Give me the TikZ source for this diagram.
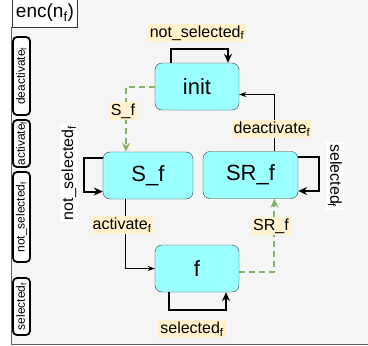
\documentclass[tikz,border=0pt]{standalone}
\usepackage{fontspec}
\setmainfont{Liberation Sans}
\usetikzlibrary{arrows.meta}
\definecolor{bgc}{HTML}{F5F5F5}
\definecolor{stc}{HTML}{9CFFFF}
\definecolor{lbl}{HTML}{FFF2CC}
\definecolor{grn}{HTML}{82B366}
\definecolor{edg}{HTML}{36393D}

\begin{document}
\begin{tikzpicture}[x=1pt,y=-1pt,
  fsm/.style={draw=edg,fill=stc,rounded corners=7pt,minimum width=84pt,minimum height=47pt,font=\fontsize{22}{24}\selectfont},
  elab/.style={fill=lbl,inner sep=2pt,font=\fontsize{16}{18}\selectfont},
  rlab/.style={fill=white,inner sep=2pt,font=\fontsize{16}{18}\selectfont},
  side/.style={draw,line width=1.8pt,rounded corners=4pt,fill=white,rotate=90,minimum height=17pt,inner sep=1pt,font=\fontsize{12}{14}\selectfont},
  selfloop/.style={line width=2pt,-{Stealth[length=9pt,width=8pt,inset=3pt]}},
  trans/.style={line width=1pt,-{Stealth[length=7pt,width=5pt]}},
  ctrl/.style={grn,line width=2pt,dash pattern=on 6pt off 4pt,-{Stealth[length=9pt,width=8pt]}}]
  \useasboundingbox (0,0) rectangle (368,346);
  \fill[bgc] (12,0) rectangle (368,344);
  \draw[edg!80,line width=1pt] (12,27) -- (12,344) -- (368,344);
  \node[draw=edg,fill=white,line width=1pt,minimum width=64pt,minimum height=28pt,font=\fontsize{19}{21}\selectfont] (enc) at (45,13) {enc(n\textsubscript{f})};

  % signals
  \node[side,minimum width=78pt] (sdeact) at (21.5,76) {deactivate\textsubscript{f}};
  \node[side,minimum width=47pt] (sact) at (21.5,143.5) {activate\textsubscript{f}};
  \node[side,minimum width=90pt] (sns) at (21.5,217) {not\_selected\textsubscript{f}};
  \node[side,minimum width=57pt] (ssel) at (21.5,306.5) {selected\textsubscript{f}};

  % states
  \node[fsm] (init) at (197,86.5) {init};
  \node[fsm,minimum width=90pt] (Sf) at (148,175.5) {S\_f};
  \node[fsm,minimum width=95pt] (SRf) at (250.5,175) {SR\_f};
  \node[fsm] (f) at (197,268.5) {f};

  \draw[selfloop] ([xshift=-26pt]init.north) -- ++(0,-14) -| ([xshift=31pt]init.north);
  \draw[ctrl] (init.west) -| ([xshift=-22pt]Sf.north);
  \draw[selfloop] ([yshift=18pt]Sf.west) -- ++(-19,0) |- ([yshift=-16pt]Sf.west);
  \draw[trans] ([xshift=-22pt]Sf.south) |- (f.west);
  \draw[trans] ([xshift=24pt]SRf.north) |- ([yshift=-8pt]init.east);
  \draw[selfloop] ([yshift=18pt]SRf.east) -- ++(21,0) |- ([yshift=-16pt]SRf.east);
  \draw[ctrl] ([yshift=-3pt]f.east) -| ([xshift=24pt]SRf.south);
  \draw[selfloop] ([xshift=-28pt]f.south) -- ++(0,18) -| ([xshift=29pt]f.south);

  % edge labels
  \node[elab] (lnsi) at (197,33) {not\_selected\textsubscript{f}};
  \node[elab] (lsf) at (123,111) {S\_f};
  \node[rlab,rotate=90] (lnss) at (69,173) {not\_selected\textsubscript{f}};
  \node[elab] (lact) at (122,225) {activate\textsubscript{f}};
  \node[elab] (ldeact) at (272,129) {deactivate\textsubscript{f}};
  \node[rlab,rotate=-90] (lsel) at (335,176) {selected\textsubscript{f}};
  \node[elab] (lsrf) at (271,226) {SR\_f};
  \node[elab] (lself) at (192,329) {selected\textsubscript{f}};
\end{tikzpicture}
\end{document}
